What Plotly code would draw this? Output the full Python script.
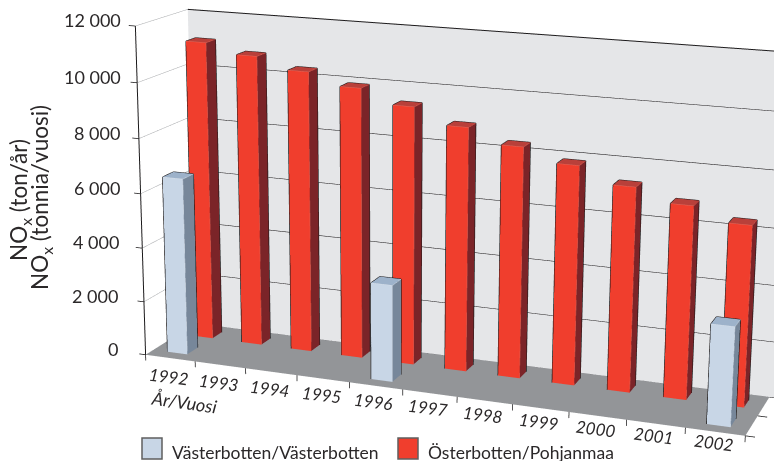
import plotly.graph_objects as go

# Data
years = ['1992', '1993', '1994', '1995', '1996', '1997', '1998', '1999', '2000', '2001', '2002']
osterbotten = [11090, 10740, 10330, 9900, 9400, 8840, 8330, 7860, 7300, 6850, 6380]
vasterbotten = [6530, None, None, None, 3510, None, None, None, None, None, 3470]
z_ticks = [0, 2000, 4000, 6000, 8000, 10000, 12000]
z_labels = ['0', '2 000', '4 000', '6 000', '8 000', '10 000', '12 000']

W, H = 774, 461
TEXT = '#2b2829'
FONT = 'Lato'
EDGE = '#1c1a1b'

# The floor is not square to the scene box in the original drawing, so depth and
# year lean the scene coordinates a little
SHEAR_X, SHEAR_Z, TILT = 0.7223, 927.76, -192.40
BLUE_X, BLUE_Y, BLUE_D = 0.2893, 0.1498, 0.2088
RED_X, RED_Y, RED_D = 0.3005, 0.6558, 0.191
BAR_W = 0.401
WALL_END = 11.3


def sx(x, y):
    return x + SHEAR_X * y


def sz(x, y, z):
    return z + SHEAR_Z * y + TILT * x


def line_trace(segs, color, width):
    xs, ys, zs = [], [], []
    for (x0, y0, z0), (x1, y1, z1) in segs:
        xs += [sx(x0, y0), sx(x1, y1), None]
        ys += [y0, y1, None]
        zs += [sz(x0, y0, z0), sz(x1, y1, z1), None]
    return go.Scatter3d(x=xs, y=ys, z=zs, mode='lines', line=dict(color=color, width=width), hoverinfo='skip')


flat = dict(ambient=1, diffuse=0, specular=0, roughness=1, fresnel=0)


def bar_traces(values, x_off, y0, depth, c_front, c_side, c_top, c_light, name):
    xs, ys, zs, ii, jj, kk, fc, segs, light = [], [], [], [], [], [], [], [], []
    for idx, v in enumerate(values):
        if v is None:
            continue
        x0, x1 = idx + x_off, idx + x_off + BAR_W
        y1 = y0 + depth
        corners = [(x0, y0, 0), (x1, y0, 0), (x1, y1, 0), (x0, y1, 0), (x0, y0, v), (x1, y0, v), (x1, y1, v), (x0, y1, v)]
        b = len(xs)
        for cx, cy, cz in corners:
            xs.append(sx(cx, cy))
            ys.append(cy)
            zs.append(sz(cx, cy, cz))
        faces = [(0, 1, 5, c_front), (0, 5, 4, c_front), (1, 2, 6, c_side), (1, 6, 5, c_side), (4, 5, 6, c_top), (4, 6, 7, c_top)]
        for a1, a2, a3, col in faces:
            ii.append(b + a1)
            jj.append(b + a2)
            kk.append(b + a3)
            fc.append(col)
        segs += [(corners[0], corners[4]), (corners[4], corners[7]), (corners[7], corners[6]), (corners[6], corners[2])]
        light += [(corners[1], corners[5]), (corners[4], corners[5]), (corners[5], corners[6])]
    return [go.Mesh3d(x=xs, y=ys, z=zs, i=ii, j=jj, k=kk, facecolor=fc, flatshading=True, lighting=flat, name=name, hoverinfo='skip'),
            line_trace(light, c_light, 1),
            line_trace(segs, EDGE, 2)]


fig = go.Figure()

# back wall and floor
wx = [sx(0, 1), sx(WALL_END, 1), sx(WALL_END, 1), sx(0, 1)]
wz = [sz(0, 1, 0), sz(WALL_END, 1, 0), sz(WALL_END, 1, 12000), sz(0, 1, 12000)]
fig.add_trace(go.Mesh3d(x=wx, y=[1, 1, 1, 1], z=wz, i=[0, 0], j=[1, 2], k=[2, 3], color='#e5e6e8', flatshading=True, lighting=flat, hoverinfo='skip'))
fx = [sx(0, 0), sx(11, 0), sx(11, 1), sx(0, 1)]
fz = [sz(0, 0, 0), sz(11, 0, 0), sz(11, 1, 0), sz(0, 1, 0)]
fig.add_trace(go.Mesh3d(x=fx, y=[0, 0, 1, 1], z=fz, i=[0, 0], j=[1, 2], k=[2, 3], color='#939598', flatshading=True, lighting=flat, hoverinfo='skip'))

# grid lines, axis line and ticks
fig.add_trace(line_trace([((0, 1, t), (WALL_END, 1, t)) for t in z_ticks], EDGE, 2))
fig.add_trace(line_trace([((0, 0, t), (0, 1, t)) for t in z_ticks[1:]], '#a7a9ac', 1))
fig.add_trace(line_trace([((0, 0, 0), (0, 0, 12000))], EDGE, 2))
fig.add_trace(line_trace([((0, 0, t), (-0.13, 0, t)) for t in z_ticks], EDGE, 1.5))
fig.add_trace(line_trace([((i, 0, 0), (i, 0, -220)) for i in range(len(years) + 1)], EDGE, 1.5))
fig.add_trace(line_trace([((11, d, 0), (11.16, d, 0)) for d in (0, 0.5)], EDGE, 1.5))

for tr in bar_traces(osterbotten, RED_X, RED_Y, RED_D, '#f03e2d', '#7b2428', '#b9403a', '#e0695c', 'Österbotten/Pohjanmaa'):
    fig.add_trace(tr)
for tr in bar_traces(vasterbotten, BLUE_X, BLUE_Y, BLUE_D, '#c8d6e6', '#77879a', '#9db2ca', '#d8dfe8', 'Västerbotten/Västerbotten'):
    fig.add_trace(tr)

# tick labels sit on the scene points
scene_notes = []
for t, lab in zip(z_ticks, z_labels):
    scene_notes.append(dict(x=sx(0, 0), y=0, z=sz(0, 0, t), text=lab, showarrow=False, xanchor='right', yanchor='middle',
                            xshift=-26 + 14 * t / 12000, yshift=6, font=dict(family=FONT, size=18, color=TEXT)))
for i, lab in enumerate(years):
    scene_notes.append(dict(x=sx(i + 0.5, 0), y=0, z=sz(i + 0.5, 0, 0), text=lab, showarrow=False, xanchor='center', yanchor='middle',
                            xshift=-2, yshift=-18 + 0.7 * i, textangle=7, font=dict(family=FONT, size=17, color=TEXT, style='italic')))

paper = dict(xref='paper', yref='paper', showarrow=False, xanchor='center', yanchor='middle')
left = dict(xref='paper', yref='paper', showarrow=False, xanchor='left', yanchor='middle')
notes = [
    dict(text='Typen oksidien päästöt', xref='paper', yref='paper', showarrow=False, x=356 / W, y=1, xanchor='left', yanchor='bottom', yshift=-4,
         font=dict(family=FONT, size=26, color='#1c1a1b', weight='bold')),
    dict(text='NO<sub>x</sub> (ton/år)', x=20 / W, y=1 - 200 / H, textangle=-90, font=dict(family=FONT, size=22.5, color=TEXT), **paper),
    dict(text='NO<sub>x</sub> (tonnia/vuosi)', x=41 / W, y=1 - 198 / H, textangle=-90, font=dict(family=FONT, size=22.5, color=TEXT), **paper),
    dict(text='År/Vuosi', x=184 / W, y=1 - 402 / H, textangle=8, font=dict(family=FONT, size=18, color=TEXT, style='italic'), **paper),
    dict(text='Västerbotten/Västerbotten', x=170 / W, y=1 - 452 / H, font=dict(family=FONT, size=17.5, color=TEXT), **left),
    dict(text='Österbotten/Pohjanmaa', x=426 / W, y=1 - 452 / H, font=dict(family=FONT, size=17.5, color=TEXT), **left),
]
shapes = [
    dict(type='rect', xref='paper', yref='paper', x0=142 / W, x1=162 / W, y0=1 - 459 / H, y1=1 - 438 / H, fillcolor='#c8d6e6', line=dict(color='#5f5f5f', width=1.5)),
    dict(type='rect', xref='paper', yref='paper', x0=398 / W, x1=418 / W, y0=1 - 459 / H, y1=1 - 438 / H, fillcolor='#f03e2d', line=dict(color='#5f5f5f', width=1.5)),
]

ax_off = dict(showbackground=False, showgrid=False, zeroline=False, showticklabels=False, title='', showspikes=False, showline=False, ticks='')
fig.update_layout(width=W, height=H, margin=dict(l=0, r=0, t=0, b=0), showlegend=False, paper_bgcolor='white',
                  annotations=notes, shapes=shapes,
                  scene=dict(domain=dict(x=[0, 1], y=[0, 1]),
                             xaxis=dict(range=[-1, 14], **ax_off), yaxis=dict(range=[-0.2, 1.2], **ax_off), zaxis=dict(range=[-6000, 18000], **ax_off),
                             aspectmode='manual', aspectratio=dict(x=1, y=0.06, z=0.8305),
                             annotations=scene_notes,
                             camera=dict(eye=dict(x=-0.049, y=-0.6912, z=0.0032), center=dict(x=-0.0827, y=-0.3711, z=-0.0195), up=dict(x=0.0054, y=0.0331, z=1),
                                         projection=dict(type='perspective'))))
fig.write_html("out.html", config=dict(displayModeBar=False), post_script="document.body.style.margin='0'")
